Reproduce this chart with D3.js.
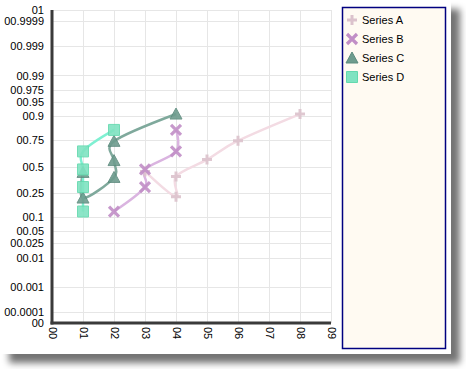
<!DOCTYPE html>
<html lang="en">
<head>
  <meta charset="utf-8">
  <title>Probability scale chart</title>
  <script src="https://cdn.jsdelivr.net/npm/d3@7/dist/d3.min.js"></script>
  <style>
    html, body { margin: 0; padding: 0; background: #fff; }
    svg { display: block; font-family: "Liberation Sans", Arial, sans-serif; }
  </style>
</head>
<body>
<div id="chart"></div>
<script>
  // ---- data ----
  const seriesNames = ['Series A', 'Series B', 'Series C', 'Series D'];

  const seriesAX = [3, 4, 4, 5, 6, 8];
  const seriesAY = [0.45, 0.22, 0.40, 0.57, 0.745, 0.91];

  const seriesBX = [2, 3, 3, 4, 4];
  const seriesBY = [0.125, 0.30, 0.47, 0.65, 0.825];

  const seriesCX = [1, 1, 2, 2, 2, 4];
  const seriesCY = [0.44, 0.21, 0.39, 0.56, 0.74, 0.91];

  const seriesDX = [1, 1, 1, 1, 2];
  const seriesDY = [0.125, 0.30, 0.47, 0.65, 0.825];

  const xTicks  = [0, 1, 2, 3, 4, 5, 6, 7, 8, 9];
  const xLabels = ['00', '01', '02', '03', '04', '05', '06', '07', '08', '09'];

  const yTicks  = [0, 0.0001, 0.001, 0.01, 0.025, 0.05, 0.1, 0.25, 0.5,
                   0.75, 0.9, 0.95, 0.975, 0.99, 0.999, 0.9999, 1];
  const yLabels = ['00', '00.0001', '00.001', '00.01', '00.025', '00.05', '00.1', '00.25', '00.5',
                   '00.75', '00.9', '00.95', '00.975', '00.99', '00.999', '00.9999', '01'];

  // ---- probability (normal quantile) transform ----
  function probit(p) {
    if (p <= 0) return -Infinity;
    if (p >= 1) return Infinity;
    const a = [-39.69683028665376, 220.9460984245205, -275.9285104469687,
               138.3577518672690, -30.66479806614716, 2.506628277459239];
    const b = [-54.47609879822406, 161.5858368580409, -155.6989798598866,
               66.80131188771972, -13.28068155288572];
    const c = [-0.007784894002430293, -0.3223964580411365, -2.400758277161838,
               -2.549732539343734, 4.374664141464968, 2.938163982698783];
    const d = [0.007784695709041462, 0.3224671290700398, 2.445134137142996,
               3.754408661907416];
    const pl = 0.02425, ph = 1 - pl;
    let q, r;
    if (p < pl) {
      q = Math.sqrt(-2 * Math.log(p));
      return (((((c[0]*q+c[1])*q+c[2])*q+c[3])*q+c[4])*q+c[5]) /
             ((((d[0]*q+d[1])*q+d[2])*q+d[3])*q+1);
    }
    if (p > ph) {
      q = Math.sqrt(-2 * Math.log(1 - p));
      return -(((((c[0]*q+c[1])*q+c[2])*q+c[3])*q+c[4])*q+c[5]) /
              ((((d[0]*q+d[1])*q+d[2])*q+d[3])*q+1);
    }
    q = p - 0.5; r = q * q;
    return (((((a[0]*r+a[1])*r+a[2])*r+a[3])*r+a[4])*r+a[5])*q /
           (((((b[0]*r+b[1])*r+b[2])*r+b[3])*r+b[4])*r+1);
  }
  const zLimit = 4;
  const zOf = p => Math.max(-zLimit, Math.min(zLimit, probit(p)));

  // ---- layout ----
  const W = 466, H = 369;
  const plot = { left: 52, right: 331, top: 10, bottom: 323 };

  const x = d3.scaleLinear().domain([0, 9]).range([plot.left, plot.right]);
  const y = d3.scaleLinear().domain([-zLimit, zLimit]).range([plot.bottom, plot.top]);

  const svg = d3.select('#chart').append('svg')
    .attr('width', W).attr('height', H);

  const defs = svg.append('defs');
  const f = defs.append('filter').attr('id', 'shadow')
    .attr('x', '-5%').attr('y', '-5%').attr('width', '115%').attr('height', '115%');
  f.append('feGaussianBlur').attr('in', 'SourceAlpha').attr('stdDeviation', 3.5);
  f.append('feOffset').attr('dx', 9).attr('dy', 9).attr('result', 'off');
  f.append('feComponentTransfer').append('feFuncA').attr('type', 'linear').attr('slope', 0.55);
  const fm = f.append('feMerge');
  fm.append('feMergeNode');
  fm.append('feMergeNode').attr('in', 'SourceGraphic');

  // panel with drop shadow
  svg.append('rect')
    .attr('x', 0).attr('y', 0).attr('width', 451).attr('height', 354)
    .attr('fill', '#fff').attr('filter', 'url(#shadow)');

  // gridlines
  const grid = svg.append('g').attr('stroke', '#e6e6e6').attr('stroke-width', 1);
  grid.selectAll('line.gx')
    .data(xTicks.filter(d => d > 0))
    .join('line')
      .attr('x1', d => Math.round(x(d)) + 0.5).attr('x2', d => Math.round(x(d)) + 0.5)
      .attr('y1', plot.top).attr('y2', plot.bottom);
  grid.selectAll('line.gy')
    .data(yTicks.filter(d => d > 0))
    .join('line')
      .attr('x1', plot.left).attr('x2', plot.right)
      .attr('y1', d => Math.round(y(zOf(d))) + 0.5).attr('y2', d => Math.round(y(zOf(d))) + 0.5);

  // axes
  const yAxis = d3.axisLeft(y)
    .tickValues(yTicks.map(zOf))
    .tickFormat((d, i) => yLabels[i])
    .tickSize(0).tickPadding(8);
  const gy = svg.append('g').attr('transform', `translate(${plot.left},0)`).call(yAxis);
  gy.select('.domain').remove();
  gy.selectAll('text').attr('font-size', 11).attr('fill', '#000')
    .attr('font-family', '"Liberation Sans", Arial, sans-serif');

  const xAxis = d3.axisBottom(x)
    .tickValues(xTicks)
    .tickFormat((d, i) => xLabels[i])
    .tickSize(0);
  const gx = svg.append('g').attr('transform', `translate(0,${plot.bottom})`).call(xAxis);
  gx.select('.domain').remove();
  gx.selectAll('text')
    .attr('font-size', 11).attr('fill', '#000')
    .attr('font-family', '"Liberation Sans", Arial, sans-serif')
    .attr('transform', 'rotate(90)')
    .attr('x', 4).attr('y', 0).attr('dy', '0.35em')
    .attr('text-anchor', 'start');

  svg.append('line')
    .attr('x1', plot.left).attr('x2', plot.left)
    .attr('y1', plot.top).attr('y2', plot.bottom + 1.5)
    .attr('stroke', '#3a3a3a').attr('stroke-width', 3);
  svg.append('line')
    .attr('x1', plot.left - 1.5).attr('x2', plot.right)
    .attr('y1', plot.bottom).attr('y2', plot.bottom)
    .attr('stroke', '#3a3a3a').attr('stroke-width', 3);

  // ---- series ----
  const plus = d3.symbol().type(d3.symbolCross);
  function markerPath(kind) {
    if (kind === 'plus')   return 'M-5,0L5,0M0,-5L0,5';
    if (kind === 'cross')  return 'M-5,-5L5,5M5,-5L-5,5';
    if (kind === 'tri')    return 'M0,-6L6,5L-6,5Z';
    return 'M-5.5,-5.5H5.5V5.5H-5.5Z';
  }
  const series = [
    { name: seriesNames[0], xs: seriesAX, ys: seriesAY, kind: 'plus',
      line: '#f3dbe3', mark: '#dcc2cc', stroke: null },
    { name: seriesNames[1], xs: seriesBX, ys: seriesBY, kind: 'cross',
      line: '#dab4e0', mark: '#c18ec6', stroke: null },
    { name: seriesNames[2], xs: seriesCX, ys: seriesCY, kind: 'tri',
      line: '#7fa99c', mark: '#6e9c8e', stroke: '#5d8b7e' },
    { name: seriesNames[3], xs: seriesDX, ys: seriesDY, kind: 'square',
      line: '#7ff0d2', mark: '#7fe3c1', stroke: '#63d9ae' }
  ];

  const line = d3.line()
    .x(d => x(d[0])).y(d => y(zOf(d[1])))
    .curve(d3.curveCardinal.tension(0));

  function drawMarker(g, kind, s) {
    const p = g.append('path').attr('d', markerPath(kind));
    if (kind === 'plus' || kind === 'cross') {
      p.attr('fill', 'none').attr('stroke', s.mark).attr('stroke-width', kind === 'plus' ? 3 : 3.2);
    } else {
      p.attr('fill', s.mark).attr('stroke', s.stroke).attr('stroke-width', 1);
    }
    return p;
  }

  series.forEach(s => {
    const pts = s.xs.map((v, i) => [v, s.ys[i]]);
    svg.append('path')
      .datum(pts)
      .attr('fill', 'none')
      .attr('stroke', s.line)
      .attr('stroke-width', 2.5)
      .attr('d', line);
  });

  series.forEach(s => {
    const pts = s.xs.map((v, i) => [v, s.ys[i]]);
    pts.forEach(pt => {
      const g = svg.append('g')
        .attr('transform', `translate(${x(pt[0])},${y(zOf(pt[1]))})`)
        .attr('opacity', 0.9);
      drawMarker(g, s.kind, s);
    });
  });

  // ---- legend ----
  const lg = svg.append('g');
  lg.append('rect')
    .attr('x', 342.5).attr('y', 7.5).attr('width', 103).attr('height', 341)
    .attr('fill', '#fffaf2').attr('stroke', '#000080').attr('stroke-width', 1.5);
  series.forEach((s, i) => {
    const cy = 20 + i * 19;
    const g = lg.append('g').attr('transform', `translate(352,${cy})`);
    drawMarker(g, s.kind, s);
    lg.append('text')
      .attr('x', 362).attr('y', cy).attr('dy', '0.35em')
      .attr('font-size', 11).attr('fill', '#000')
      .text(s.name);
  });
</script>
</body>
</html>
